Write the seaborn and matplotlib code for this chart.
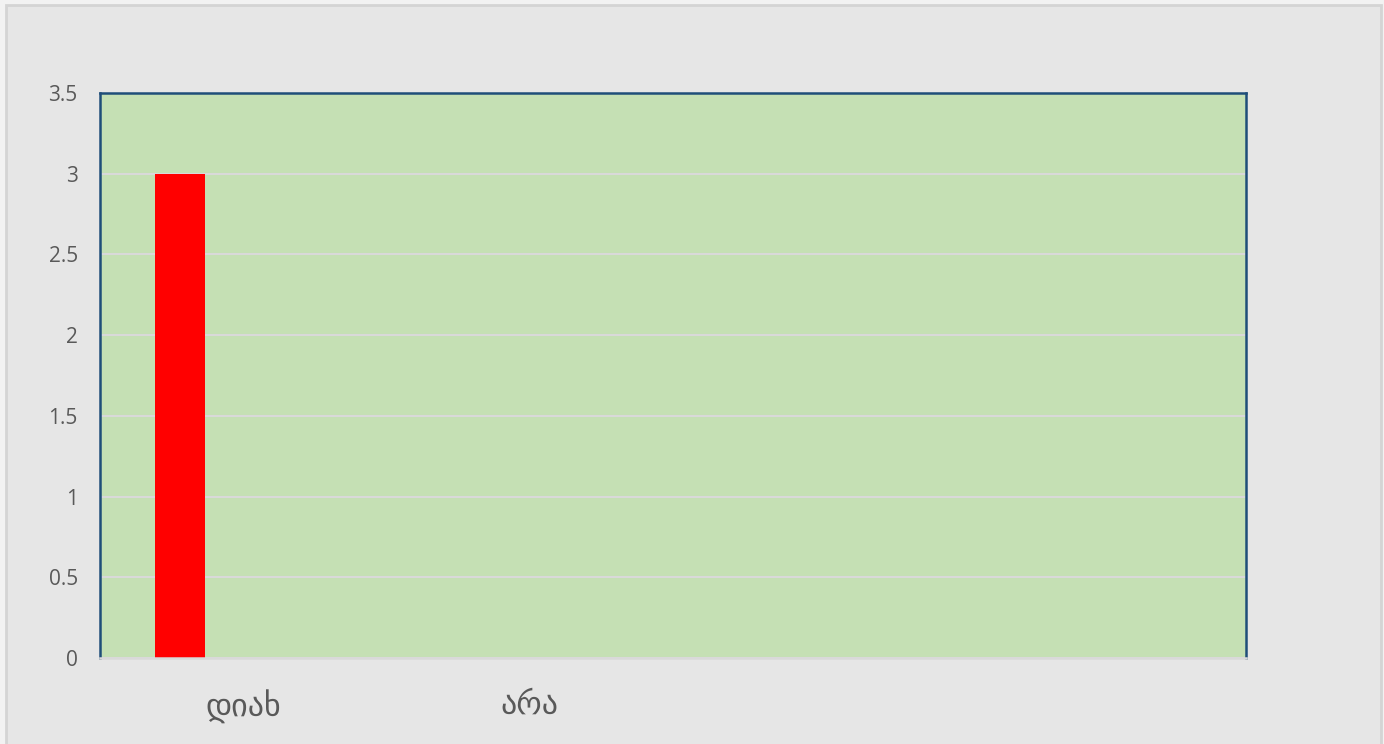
import matplotlib
matplotlib.use("Agg")
import matplotlib.pyplot as plt
import seaborn as sns
import pandas as pd
from matplotlib.patches import Rectangle

# --- data ---
categories = ["დიახ", "არა", " ", "  "]
tick_labels = ["დიახ", "არა", "", ""]
series_names = ["s1", "s2", "s3"]
series1 = [3, 0, 0, 0]
series2 = [0, 0, 0, 0]
series3 = [0, 0, 0, 0]
y_ticks = [0, 0.5, 1, 1.5, 2, 2.5, 3, 3.5]
y_tick_labels = ["0", "0.5", "1", "1.5", "2", "2.5", "3", "3.5"]

rows = []
for name, vals in zip(series_names, [series1, series2, series3]):
    for c, v in zip(categories, vals):
        rows.append({"category": c, "series": name, "value": v})
df = pd.DataFrame(rows)

sns.set_theme(style="white")
plt.rcParams["font.family"] = ["Open Sans", "DejaVu Sans"]

W, H = 1384, 744
fig = plt.figure(figsize=(W / 100, H / 100), dpi=100)
fig.patch.set_facecolor("#f2f2f2")
fig.add_artist(Rectangle((6 / W, -0.01), (1381 - 6) / W, (H - 5) / H + 0.01,
                         transform=fig.transFigure, facecolor="#e6e6e6",
                         edgecolor="#d4d4d4", linewidth=2, zorder=0))

ax = fig.add_axes([100 / W, 1 - 658 / H, (1246 - 100) / W, (658 - 93) / H])
ax.set_facecolor("#c5e0b4")

sns.barplot(data=df, x="category", y="value", hue="series", order=categories,
            hue_order=series_names, palette=["#ff0000", "#ff0000", "#ff0000"],
            width=0.66, gap=0.2, dodge=True, legend=False, ax=ax,
            saturation=1, edgecolor="none", linewidth=0)

ax.set_ylim(0, 3.5)
ax.set_xlim(-0.5, len(categories) - 0.5)
ax.set_yticks(y_ticks)
ax.set_yticklabels(y_tick_labels)
ax.set_xticks(range(len(categories)))
ax.set_xticklabels(tick_labels, family=["DejaVu Sans"], fontweight="normal")
ax.grid(axis="y", color="#d9d9d9", linewidth=1.5)
ax.set_axisbelow(True)
ax.set_xlabel("")
ax.set_ylabel("")

ax.tick_params(axis="y", length=0, labelsize=15, labelcolor="#595959", pad=16)
ax.tick_params(axis="x", length=0, labelsize=23, labelcolor="#595959", pad=23)

for side in ["left", "top", "right"]:
    ax.spines[side].set_color("#1f4e79")
    ax.spines[side].set_linewidth(1.8)
ax.spines["bottom"].set_color("#d9d9d9")
ax.spines["bottom"].set_linewidth(1.8)

fig.savefig("out.png", dpi=100, facecolor=fig.get_facecolor())
